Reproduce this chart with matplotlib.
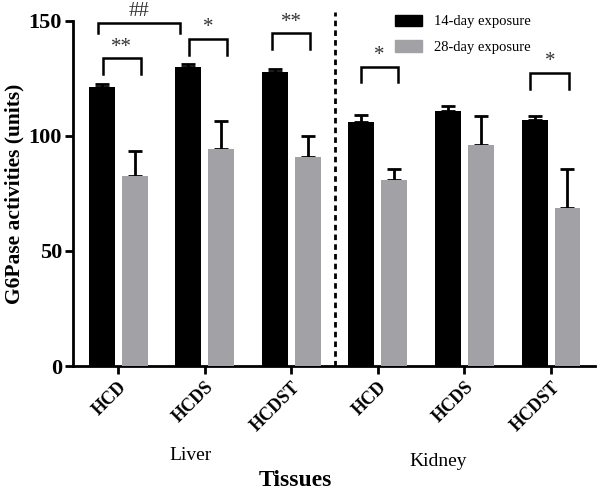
import matplotlib
matplotlib.use("Agg")
import matplotlib.pyplot as plt
import matplotlib.patches as mpatches
import numpy as np

plt.rcParams['font.family'] = ['Liberation Serif', 'DejaVu Serif']

# data
groups = ['HCD', 'HCDS', 'HCDST', 'HCD', 'HCDS', 'HCDST']
day14_mean = [121.5, 130.0, 128.0, 106.0, 111.0, 107.0]
day14_err = [1.0, 1.2, 1.0, 3.0, 2.0, 1.5]
day28_mean = [82.5, 94.5, 91.0, 81.0, 96.0, 68.5]
day28_err = [11.0, 12.0, 9.0, 4.5, 12.5, 17.0]
series_names = ['14-day exposure', '28-day exposure']
tissues = ['Liver', 'Kidney']

# significance brackets: (x left, x right, top, leg bottom, label)
brackets = [
    (-0.18, 0.26, 133.8, 127.0, '**'),
    (-0.235, 0.717, 149.3, 144.8, '##'),
    (0.82, 1.26, 142.2, 135.2, '*'),
    (1.78, 2.22, 144.6, 137.7, '**'),
    (2.80, 3.23, 130.1, 123.6, '*'),
    (4.76, 5.21, 127.6, 120.4, '*'),
]

BLACK = '#000000'
GREY = '#a2a2a6'
width = 0.30
off = 0.19

fig = plt.figure(figsize=(6, 4.95), dpi=100)
ax = fig.add_axes([0.122, 0.2606, 0.870, 0.697])

x = np.arange(len(groups))
ax.bar(x - off, day14_mean, width, color=BLACK, zorder=3)
ax.bar(x + off, day28_mean, width, color=GREY, zorder=3)
ax.errorbar(x - off, day14_mean, yerr=[np.zeros(len(x)), day14_err], fmt='none',
            ecolor='black', elinewidth=2, capsize=5, capthick=2, zorder=2)
ax.errorbar(x + off, day28_mean, yerr=[np.zeros(len(x)), day28_err], fmt='none',
            ecolor='black', elinewidth=2, capsize=5, capthick=2, zorder=2)

for x1, x2, yt, yb, lab in brackets:
    ax.plot([x1, x1, x2, x2], [yb, yt, yt, yb], color='black', lw=1.8,
            clip_on=False, solid_joinstyle='miter')
    ax.text((x1 + x2) / 2, yt + 4.8, lab, ha='center', va='center',
            fontsize=15, color='#333333', clip_on=False)

# separator between tissues
ax.plot([2.5, 2.5], [0, 154], color='black', lw=2, ls=(0, (2, 1.5)),
        clip_on=False, zorder=4)

ax.set_xlim(-0.52, 5.51)
ax.set_ylim(0, 150)
ax.set_yticks([0, 50, 100, 150])
ax.set_xticks(x)
ax.set_xticklabels(groups, rotation=45, ha='right', rotation_mode='anchor',
                   fontweight='bold', fontsize=13)
for lbl in ax.get_yticklabels():
    lbl.set_fontweight('bold')
    lbl.set_fontsize(16)
ax.tick_params(axis='both', width=2, length=6, direction='out', pad=2)
ax.tick_params(axis='x', pad=3)
for s in ['top', 'right']:
    ax.spines[s].set_visible(False)
for s in ['left', 'bottom']:
    ax.spines[s].set_linewidth(2)

ax.set_ylabel('G6Pase activities (units)', fontweight='bold', fontsize=15.5, labelpad=3)

trans = ax.get_xaxis_transform()
ax.text(0.83, -0.258, tissues[0], transform=trans, ha='center', va='center', fontsize=14)
ax.text(3.70, -0.278, tissues[1], transform=trans, ha='center', va='center', fontsize=14)
fig.text(0.492, 0.030, 'Tissues', ha='center', va='center', fontsize=17, fontweight='bold')

handles = [mpatches.Patch(color=BLACK), mpatches.Patch(color=GREY)]
ax.legend(handles, series_names, loc='upper left', bbox_to_anchor=(0.637, 0.997),
          bbox_transform=fig.transFigure, frameon=False, fontsize=10.5,
          handlelength=1.85, handleheight=0.85, labelspacing=0.8, handletextpad=0.8)

fig.savefig('out.png', dpi=100)
